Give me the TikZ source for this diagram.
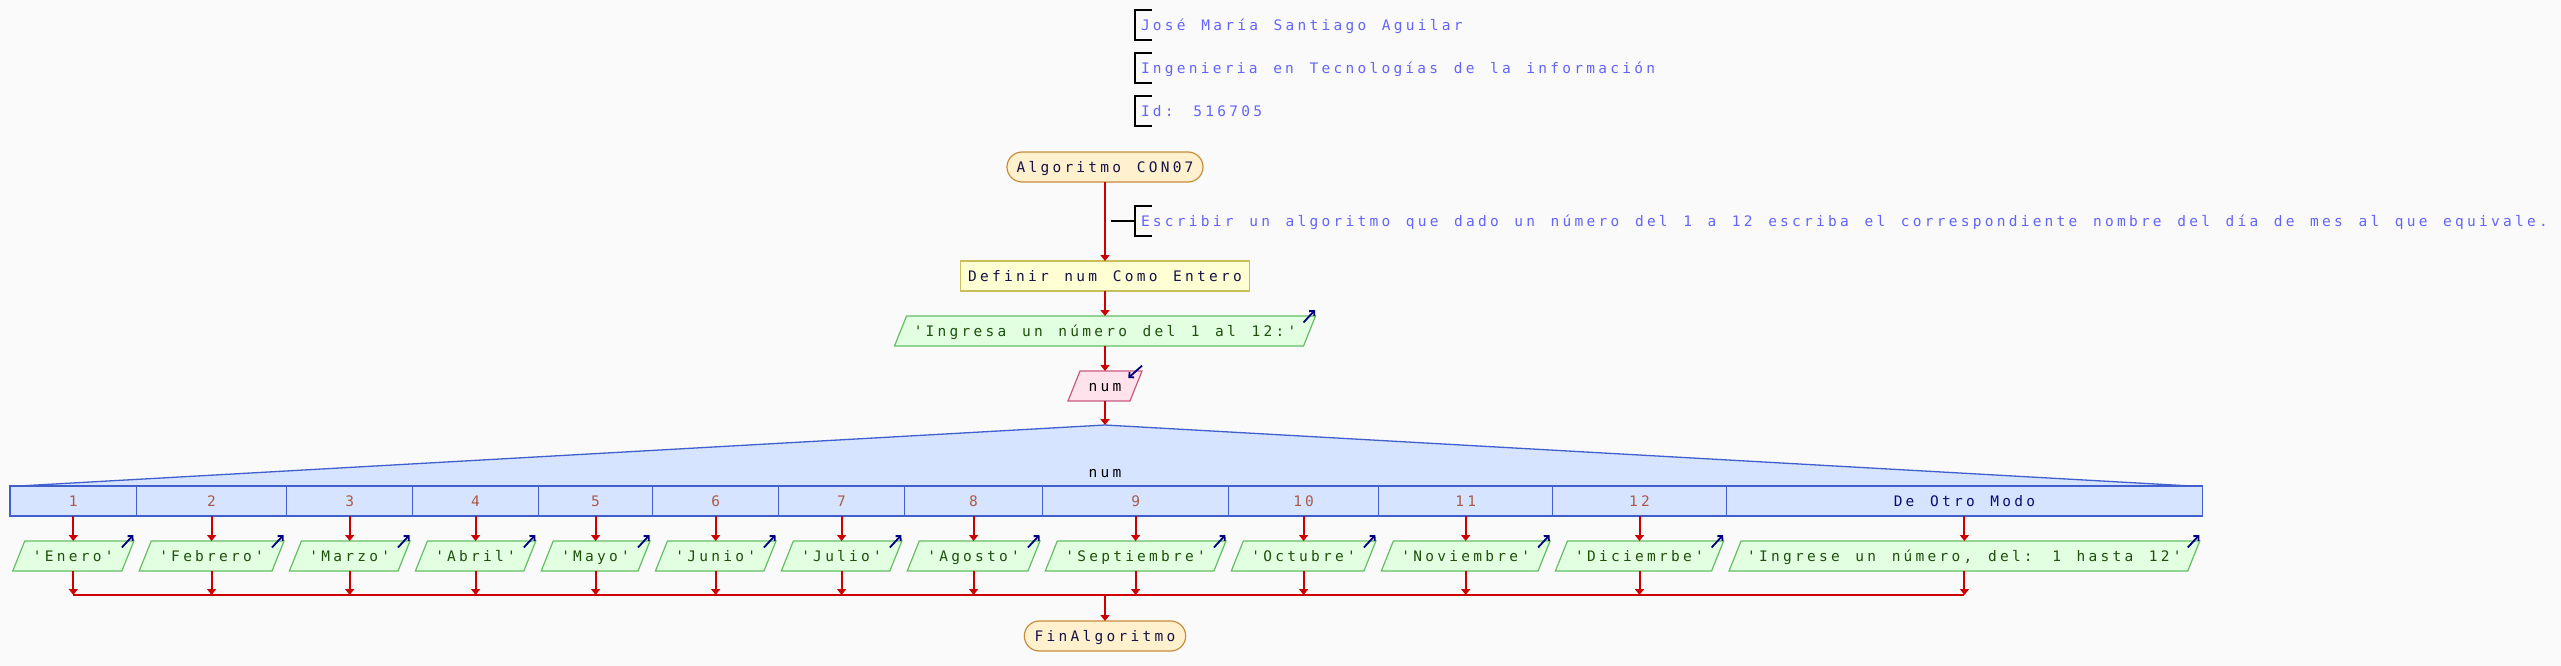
\documentclass[tikz,border=0pt]{standalone}
\usepackage{fontspec}
\newfontfamily\pfont[LetterSpace=22.5,WordSpace=1.3]{DejaVu Sans Mono}
\usetikzlibrary{arrows.meta,backgrounds}
\definecolor{bgc}{RGB}{250,250,250}
\definecolor{flowred}{RGB}{204,0,0}
\definecolor{termfill}{RGB}{255,240,206}
\definecolor{termdraw}{RGB}{200,140,60}
\definecolor{procfill}{RGB}{255,255,212}
\definecolor{procdraw}{RGB}{200,190,90}
\definecolor{outfill}{RGB}{226,255,226}
\definecolor{outdraw}{RGB}{100,190,100}
\definecolor{outtext}{RGB}{30,80,10}
\definecolor{infill}{RGB}{255,226,236}
\definecolor{indraw}{RGB}{200,90,130}
\definecolor{iconc}{RGB}{0,0,128}
\definecolor{casefill}{RGB}{214,228,255}
\definecolor{casedraw}{RGB}{65,95,205}
\definecolor{caselbl}{RGB}{170,90,70}
\definecolor{otrolbl}{RGB}{10,10,120}
\definecolor{cmt}{RGB}{100,100,250}
\definecolor{flowtext}{RGB}{20,20,70}
\newcommand\ptext{\pfont\fontsize{14.5}{14.5}\selectfont}
\newcommand\outpar[4]{%
  \node[ptxt, text=outtext, minimum width=#3] (#1) at (#2,556) {#4};
  \begin{scope}[on background layer]
    \filldraw[outshape] ([xshift=6]#1.north west) -- ([xshift=6]#1.north east) -- ([xshift=-6]#1.south east) -- ([xshift=-6]#1.south west) -- cycle;
  \end{scope}
  \draw[icon] ([xshift=-6,yshift=-6.5]#1.north east) -- ([xshift=5.5,yshift=6]#1.north east);
}
\begin{document}
\begin{tikzpicture}[x=1pt,y=-1pt,
  txt/.style={font=\ptext, text height=12.5, text depth=1.8, inner sep=0, outer sep=0},
  term/.style={txt, draw=termdraw, fill=termfill, line width=1.2, rounded corners=15, minimum height=30, text=flowtext},
  proc/.style={txt, draw=procdraw, fill=procfill, line width=1.2, minimum height=30, text=flowtext},
  ptxt/.style={txt, minimum height=30},
  outshape/.style={draw=outdraw, fill=outfill, line width=1.2},
  inshape/.style={draw=indraw, fill=infill, line width=1.2},
  flow/.style={draw=flowred, line width=2, -{Triangle[length=6,width=9]}},
  icon/.style={draw=iconc, line width=1.8, -{Straight Barb[length=3.5,width=7]}},
  cell/.style={txt, draw=casedraw, fill=casefill, line width=1.3, minimum height=30, text=caselbl},
  brk/.style={draw=black, line width=1.1},
  cmtnode/.style={txt, minimum height=30, text=cmt, anchor=west},
]
\begin{scope}[on background layer]
  \fill[bgc] (0,0) rectangle (2561,666);
\end{scope}
\useasboundingbox (0,0) rectangle (2561,666);

% header comments
\node[cmtnode] (k1) at (1141,25) {José María Santiago Aguilar};
\node[cmtnode] (k2) at (1141,68) {Ingenieria en Tecnologías de la información};
\node[cmtnode] (k3) at (1141,111) {Id: 516705};
\node[cmtnode] (k4) at (1141,221) {Escribir un algoritmo que dado un número del 1 a 12 escriba el correspondiente nombre del día de mes al que equivale.};
\foreach \k in {k1,k2,k3,k4}
  \draw[brk] ([xshift=11]\k.north west) -- ([xshift=-6]\k.north west) -- ([xshift=-6]\k.south west) -- ([xshift=11]\k.south west);

% main flow
\node[term, minimum width=196] (start) at (1105,167) {Algoritmo CON07};
\node[proc, minimum width=289] (def) at (1105,276) {Definir num Como Entero};
\draw[flow] (start.south) -- (def.north);
\coordinate (cmj) at (1111,221);
\draw[brk] (cmj) -- ([xshift=-6]k4.west);

\node[ptxt, text=outtext, minimum width=409] (ing) at (1105,331) {'Ingresa un número del 1 al 12:'};
\begin{scope}[on background layer]
  \filldraw[outshape] ([xshift=6]ing.north west) -- ([xshift=6]ing.north east) -- ([xshift=-6]ing.south east) -- ([xshift=-6]ing.south west) -- cycle;
\end{scope}
\draw[icon] ([xshift=-6,yshift=-6.5]ing.north east) -- ([xshift=5.5,yshift=6]ing.north east);
\draw[flow] (def.south) -- (ing.north);

\node[ptxt, text=black, minimum width=62] (num) at (1105,386) {num};
\begin{scope}[on background layer]
  \filldraw[inshape] ([xshift=6]num.north west) -- ([xshift=6]num.north east) -- ([xshift=-6]num.south east) -- ([xshift=-6]num.south west) -- cycle;
\end{scope}
\draw[icon] ([xshift=6,yshift=5.3]num.north east) -- ([xshift=-7.7,yshift=-7]num.north east);
\draw[flow] (ing.south) -- (num.north);

% switch
\coordinate (apex) at (1105,425);
\filldraw[draw=casedraw, fill=casefill, line width=1.3] (19,486) -- (apex) -- (2191,486) -- cycle;
\node[txt, text=black] (sw) at (1105,472) {num};
\draw[flow] (num.south) -- (apex);

\foreach \i/\cx/\w in {1/73.3/126.5, 2/211.6/150.2, 3/349.7/126, 4/475.6/125.8, 5/595.6/114.2, 6/715.7/125.9, 7/841.6/125.9, 8/973.6/138.1, 9/1135.6/186, 10/1303.6/150, 11/1465.7/174.1, 12/1639.5/173.6}
  \node[cell, minimum width=\w] (c\i) at (\cx,501) {\i};
\node[cell, minimum width=476.1, text=otrolbl] (cd) at (1964.4,501) {De Otro Modo};

\outpar{o1}{73.3}{109.1}{'Enero'}
\outpar{o2}{211.6}{132.8}{'Febrero'}
\outpar{o3}{349.7}{108.6}{'Marzo'}
\outpar{o4}{475.6}{108.4}{'Abril'}
\outpar{o5}{595.6}{96.8}{'Mayo'}
\outpar{o6}{715.7}{108.5}{'Junio'}
\outpar{o7}{841.6}{108.5}{'Julio'}
\outpar{o8}{973.6}{120.7}{'Agosto'}
\outpar{o9}{1135.6}{168.6}{'Septiembre'}
\outpar{o10}{1303.6}{132.6}{'Octubre'}
\outpar{o11}{1465.7}{156.7}{'Noviembre'}
\outpar{o12}{1639.5}{156.2}{'Diciemrbe'}
\outpar{od}{1964.4}{458.7}{'Ingrese un número, del: 1 hasta 12'}

\coordinate (mline) at (1105,595);
\foreach \i in {1,...,12,d} {
  \draw[flow] (c\i.south) -- (o\i.north);
  \draw[flow] (o\i.south) -- (o\i.south |- mline);
}
\draw[draw=flowred, line width=2.3] (o1.south |- mline) -- (od.south |- mline);

\node[term, minimum width=161.4] (fin) at (1105,636) {FinAlgoritmo};
\draw[flow] (mline) -- (fin.north);
\end{tikzpicture}
\end{document}
